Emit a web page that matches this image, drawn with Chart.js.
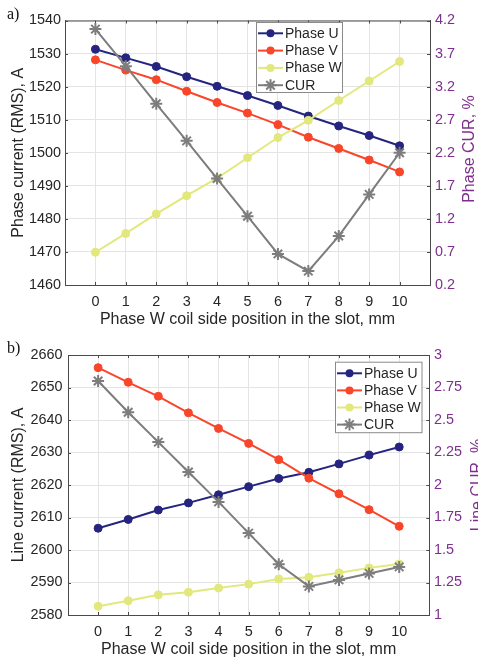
<!DOCTYPE html>
<html>
<head>
<meta charset="utf-8">
<script src="https://cdn.jsdelivr.net/npm/chart.js@4/dist/chart.umd.min.js"></script>
<style>
  html, body { margin: 0; padding: 0; background: #fff; width: 478px; height: 661px; overflow: hidden; }
  .panel { position: absolute; left: 0; width: 478px; }
  .panel canvas { display: block; }
  .tag { position: absolute; left: 7px; font: 16px 'Liberation Serif', 'Times New Roman', serif; line-height: 16px; color: #111; }
</style>
</head>
<body>
<div class="panel" style="top:0;height:330px"><canvas id="chartA" width="478" height="330"></canvas></div>
<div class="panel" style="top:330px;height:331px"><canvas id="chartB" width="478" height="331"></canvas></div>
<div class="tag" style="top:6px">a)</div>
<div class="tag" style="top:340px">b)</div>
<script>
// Phase W coil side position in the slot, mm
const positions = [0, 1, 2, 3, 4, 5, 6, 7, 8, 9, 10];

// a) phase currents (RMS), A and phase current unbalance, %
const phaseU_A = [1531.3, 1528.7, 1526.1, 1523.0, 1520.1, 1517.3, 1514.3, 1511.1, 1508.1, 1505.2, 1502.1];
const phaseV_A = [1528.1, 1525.0, 1522.1, 1518.6, 1515.2, 1512.0, 1508.5, 1504.7, 1501.3, 1497.8, 1494.2];
const phaseW_A = [1469.9, 1475.6, 1481.5, 1487.0, 1492.3, 1498.5, 1504.6, 1509.8, 1515.8, 1521.7, 1527.6];
const curA     = [4.07, 3.51, 2.94, 2.38, 1.81, 1.24, 0.67, 0.41, 0.94, 1.57, 2.20];

// b) line currents (RMS), A and line current unbalance, %
const phaseU_B = [2606.7, 2609.4, 2612.3, 2614.5, 2617.0, 2619.5, 2622.0, 2623.9, 2626.5, 2629.2, 2631.7];
const phaseV_B = [2656.1, 2651.6, 2647.3, 2642.2, 2637.4, 2632.8, 2627.8, 2622.1, 2617.3, 2612.4, 2607.3];
const phaseW_B = [2582.7, 2584.4, 2586.2, 2587.0, 2588.3, 2589.5, 2591.1, 2591.6, 2593.0, 2594.5, 2595.7];
const curB     = [2.80, 2.56, 2.33, 2.10, 1.87, 1.63, 1.39, 1.22, 1.27, 1.32, 1.37];

// tick values
const leftTicksA  = [1460, 1470, 1480, 1490, 1500, 1510, 1520, 1530, 1540];
const rightTicksA = [0.2, 0.7, 1.2, 1.7, 2.2, 2.7, 3.2, 3.7, 4.2];
const leftTicksB  = [2580, 2590, 2600, 2610, 2620, 2630, 2640, 2650, 2660];
const rightTicksB = [1, 1.25, 1.5, 1.75, 2, 2.25, 2.5, 2.75, 3];

const seriesNames = ['Phase U', 'Phase V', 'Phase W', 'CUR'];

const COL_U = '#25257f';
const COL_V = '#f9462a';
const COL_W = '#e2e87c';
const COL_CUR = '#7d7d7d';
const COL_PURPLE = '#7e2f8e';
const COL_AXIS = '#4a4a4a';
const COL_TEXT = '#262626';
const COL_GRID = '#e4e4e4';
const FONT = "'Liberation Sans', Arial, Helvetica, sans-serif";

function pts(ys) { return positions.map((x, i) => ({ x: x, y: ys[i] })); }

function lineSet(label, ys, color, order) {
  return {
    label, data: pts(ys), yAxisID: 'y', order,
    borderColor: color, backgroundColor: color,
    borderWidth: 2, pointRadius: 4, pointHoverRadius: 4,
    pointBorderWidth: 1, pointStyle: 'circle', tension: 0
  };
}

function curSet(label, ys) {
  return {
    label, data: pts(ys), yAxisID: 'y1', order: 1,
    borderColor: COL_CUR, backgroundColor: COL_CUR,
    borderWidth: 2, pointRadius: 6, pointHoverRadius: 6,
    pointBorderWidth: 2, pointStyle: 'star', tension: 0
  };
}

// box outline, inner tick marks, legend and right-hand axis title
const framePlugin = {
  id: 'frame',
  beforeDatasetsDraw(chart) {
    const { ctx, chartArea: a, scales } = chart;
    ctx.save();
    ctx.strokeStyle = COL_AXIS;
    ctx.lineWidth = 1;
    ctx.beginPath();
    ctx.moveTo(a.left, a.top + 0.5);
    ctx.lineTo(a.right, a.top + 0.5);
    const tl = 3;
    scales.x.ticks.forEach(t => {
      const px = Math.round(scales.x.getPixelForValue(t.value)) + 0.5;
      ctx.moveTo(px, a.bottom); ctx.lineTo(px, a.bottom - tl);
      ctx.moveTo(px, a.top); ctx.lineTo(px, a.top + tl);
    });
    scales.y.ticks.forEach(t => {
      const py = Math.round(scales.y.getPixelForValue(t.value)) + 0.5;
      ctx.moveTo(a.left, py); ctx.lineTo(a.left + tl, py);
    });
    scales.y1.ticks.forEach(t => {
      const py = Math.round(scales.y1.getPixelForValue(t.value)) + 0.5;
      ctx.moveTo(a.right, py); ctx.lineTo(a.right - tl, py);
    });
    ctx.stroke();
    ctx.restore();
  },
  afterDraw(chart, args, opts) {
    const { ctx } = chart;
    // right axis title, reading bottom to top
    ctx.save();
    ctx.fillStyle = COL_PURPLE;
    ctx.font = opts.titleSize + 'px ' + FONT;
    ctx.textAlign = 'center';
    ctx.textBaseline = 'middle';
    ctx.translate(opts.titleX, opts.titleY);
    ctx.rotate(-Math.PI / 2);
    ctx.fillText(opts.rightTitle, 0, 0);
    ctx.restore();

    // legend box
    const L = opts.legend;
    ctx.save();
    ctx.fillStyle = '#ffffff';
    ctx.fillRect(L.x, L.y, L.w, L.h);
    ctx.strokeStyle = '#8a8a8a';
    ctx.lineWidth = 1;
    ctx.strokeRect(L.x + 0.5, L.y + 0.5, L.w, L.h);
    ctx.font = '14px ' + FONT;
    ctx.textAlign = 'left';
    ctx.textBaseline = 'middle';
    chart.data.datasets.forEach((ds, i) => {
      const cy = L.row0 + i * L.step;
      const x0 = L.x + 2, x1 = L.x + 27, cx = (x0 + x1) / 2;
      ctx.strokeStyle = ds.borderColor;
      ctx.lineWidth = 2;
      ctx.beginPath(); ctx.moveTo(x0, cy); ctx.lineTo(x1, cy); ctx.stroke();
      if (ds.pointStyle === 'star') {
        const r = ds.pointRadius;
        ctx.lineWidth = ds.pointBorderWidth;
        ctx.beginPath();
        for (let k = 0; k < 4; k++) {
          const ang = k * Math.PI / 4;
          ctx.moveTo(cx - Math.cos(ang) * r, cy - Math.sin(ang) * r);
          ctx.lineTo(cx + Math.cos(ang) * r, cy + Math.sin(ang) * r);
        }
        ctx.stroke();
      } else {
        ctx.fillStyle = ds.backgroundColor;
        ctx.beginPath(); ctx.arc(cx, cy, ds.pointRadius, 0, Math.PI * 2); ctx.fill();
      }
      ctx.fillStyle = COL_TEXT;
      ctx.fillText(ds.label, L.x + 29, cy + 0.5);
    });
    ctx.restore();
  }
};

function makeChart(id, sets, geo) {
  const { uVals, vVals, wVals, curVals, leftTicks, rightTicks } = sets;
  return new Chart(document.getElementById(id), {
    type: 'line',
    data: {
      datasets: [
        lineSet(seriesNames[0], uVals, COL_U, 4),
        lineSet(seriesNames[1], vVals, COL_V, 3),
        lineSet(seriesNames[2], wVals, COL_W, 2),
        curSet(seriesNames[3], curVals)
      ]
    },
    options: {
      responsive: false,
      animation: false,
      devicePixelRatio: 1,
      events: [],
      layout: { autoPadding: false, padding: { top: geo.top, left: 0, right: 0, bottom: 0 } },
      plugins: {
        legend: { display: false },
        tooltip: { enabled: false },
        frame: {
          rightTitle: geo.rightTitle, titleX: geo.rTitleX, titleY: geo.rTitleY, titleSize: geo.rTitleSize,
          legend: geo.legend
        }
      },
      scales: {
        x: {
          type: 'linear', min: -1, max: 11,
          afterBuildTicks: s => { s.ticks = positions.map(v => ({ value: v })); },
          afterFit: s => { s.height = geo.bottom; },
          grid: { color: COL_GRID, drawTicks: false },
          border: { color: COL_AXIS, width: 1 },
          ticks: { padding: geo.xTickPad, color: COL_TEXT, font: { family: FONT, size: 14.4 }, maxRotation: 0, autoSkip: false },
          title: { display: true, text: 'Phase W coil side position in the slot, mm', color: COL_TEXT,
                   font: { family: FONT, size: 16 }, padding: { top: 0, bottom: geo.xTitlePad } }
        },
        y: {
          type: 'linear', position: 'left',
          min: leftTicks[0], max: leftTicks[leftTicks.length - 1],
          afterBuildTicks: s => { s.ticks = leftTicks.map(v => ({ value: v })); },
          afterFit: s => { s.width = geo.left; },
          grid: { color: COL_GRID, drawTicks: false },
          border: { color: COL_AXIS, width: 1 },
          ticks: { padding: geo.yTickPad, color: COL_TEXT, font: { family: FONT, size: 14.4 }, callback: v => String(v) },
          title: { display: true, text: geo.leftTitle, color: COL_TEXT,
                   font: { family: FONT, size: 16 }, padding: { top: geo.yTitlePad, bottom: 0 } }
        },
        y1: {
          type: 'linear', position: 'right',
          min: rightTicks[0], max: rightTicks[rightTicks.length - 1],
          afterBuildTicks: s => { s.ticks = rightTicks.map(v => ({ value: v })); },
          afterFit: s => { s.width = geo.right; },
          grid: { display: false, drawTicks: false },
          border: { color: COL_AXIS, width: 1 },
          ticks: { padding: geo.y1TickPad, color: COL_PURPLE, font: { family: FONT, size: 14.4 }, callback: v => String(v) }
        }
      }
    },
    plugins: [framePlugin]
  });
}

makeChart('chartA',
  { uVals: phaseU_A, vVals: phaseV_A, wVals: phaseW_A, curVals: curA, leftTicks: leftTicksA, rightTicks: rightTicksA },
  { top: 20.5, left: 65, right: 48, bottom: 45, xTickPad: 8, xTitlePad: 0.4, yTickPad: 4, y1TickPad: 5, yTitlePad: 8.5,
    leftTitle: 'Phase current (RMS), A', rightTitle: 'Phase CUR, %', rTitleX: 470, rTitleY: 149, rTitleSize: 16,
    legend: { x: 256, y: 22, w: 86, h: 70, row0: 33.3, step: 17.3 } });

makeChart('chartB',
  { uVals: phaseU_B, vVals: phaseV_B, wVals: phaseW_B, curVals: curB, leftTicks: leftTicksB, rightTicks: rightTicksB },
  { top: 25, left: 68, right: 48.7, bottom: 46, xTickPad: 8.5, xTitlePad: 1.4, yTickPad: 5.5, y1TickPad: 4.7, yTitlePad: 8.5,
    leftTitle: 'Line current (RMS), A', rightTitle: 'Line CUR, %', rTitleX: 477.5, rTitleY: 155, rTitleSize: 16,
    legend: { x: 335, y: 31.7, w: 86.5, h: 70.5, row0: 43.3, step: 17.1 } });
</script>
</body>
</html>
